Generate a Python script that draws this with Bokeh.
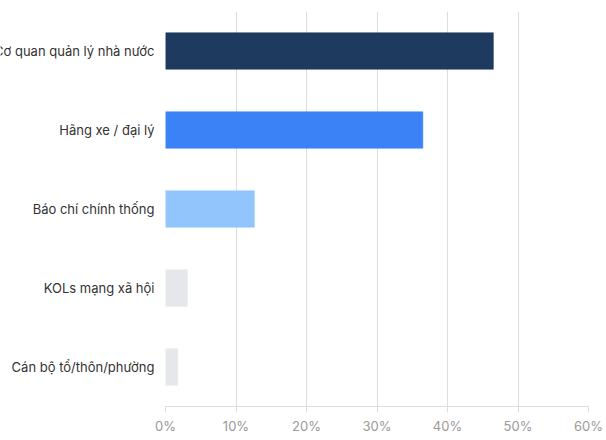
from bokeh.plotting import figure
from bokeh.layouts import row
from bokeh.models import Range1d, FixedTicker, PrintfTickFormatter, ColumnDataSource
from bokeh.core.properties import value
from bokeh.embed import file_html
from bokeh.resources import INLINE

categories = ["Cơ quan quản lý nhà nước", "Hãng xe / đại lý", "Báo chí chính thống",
              "KOLs mạng xã hội", "Cán bộ tổ/thôn/phường"]
values = [46.5, 36.5, 12.6, 3.1, 1.75]
colors = ["#1e3a5f", "#3b82f6", "#93c5fd", "#e5e7eb", "#e5e7eb"]
x_ticks = [0, 10, 20, 30, 40, 50, 60]

FONT = "Inter"
n = len(categories)
pos = [n - 1 - i for i in range(n)]  # first category at the top

src = ColumnDataSource(dict(cat=categories, pos=pos, val=values, color=colors,
                            anchor=[1.0] * n))
y_range = Range1d(-0.5, n - 0.5)

# left panel carrying the category labels
lab = figure(width=154, height=440, output_backend="svg", toolbar_location=None,
             y_range=y_range, x_range=Range1d(0, 1),
             min_border_left=0, min_border_right=0, min_border_top=11, min_border_bottom=34)
lab.axis.visible = False
lab.grid.visible = False
lab.outline_line_color = None
lab.text(x="anchor", y="pos", text="cat", source=src, x_offset=0,
         text_align="right", text_baseline="middle",
         text_font=value(FONT), text_font_size="13px", text_color="#333333")

p = figure(width=452, height=440, output_backend="svg", toolbar_location=None,
           y_range=y_range, x_range=Range1d(0, 60),
           min_border_left=11, min_border_right=18, min_border_top=11, min_border_bottom=34)
p.outline_line_color = None
p.background_fill_color = "white"
p.border_fill_color = "white"

p.hbar(y="pos", right="val", left=0, height=0.46, fill_color="color", line_color="color",
       line_alpha=0.6, line_width=1, source=src)

p.yaxis.visible = False
p.ygrid.grid_line_color = None

p.xgrid.ticker = FixedTicker(ticks=x_ticks)
p.xgrid.grid_line_color = "#dddddd"
p.xgrid.grid_line_width = 1

xa = p.xaxis[0]
xa.ticker = FixedTicker(ticks=x_ticks)
xa.formatter = PrintfTickFormatter(format="%d%%")
xa.axis_line_color = "#dddddd"
xa.major_tick_line_color = "#dddddd"
xa.major_tick_out = 6
xa.major_tick_in = 0
xa.minor_tick_line_color = None
xa.major_label_standoff = 5
xa.major_label_text_font = FONT
xa.major_label_text_font_size = "13px"
xa.major_label_text_color = "#999999"

layout = row(lab, p, spacing=0)
open("out.html", "w").write(file_html(layout, INLINE))
